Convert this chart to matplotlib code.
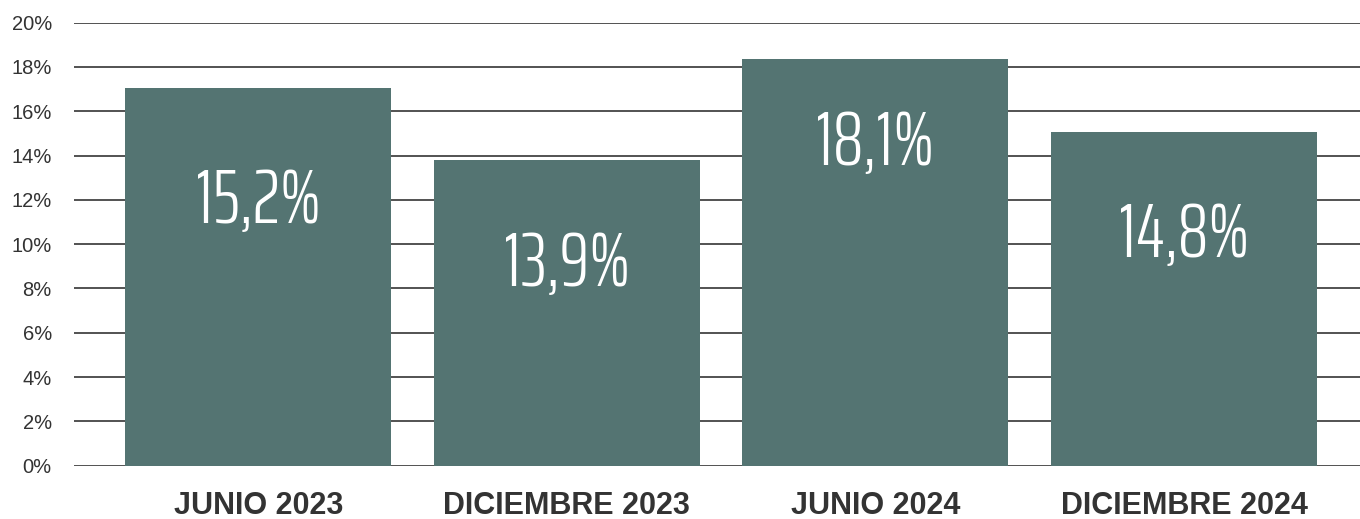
import matplotlib
matplotlib.use('Agg')
import matplotlib.pyplot as plt
import numpy

# data (bar heights in %, printed labels as shown)
PERIODS = ['JUNIO 2023', 'DICIEMBRE 2023', 'JUNIO 2024', 'DICIEMBRE 2024']
BAR_HEIGHTS = [17.05, 13.8, 18.35, 15.05]
BAR_LABELS = ['15,2%', '13,9%', '18,1%', '14,8%']
Y_TICKS = [0, 2, 4, 6, 8, 10, 12, 14, 16, 18, 20]

# layout only: how far below the bar top each label baseline sits (points)
LABEL_DROP_PT = [97, 91, 76, 90]

BAR_COLOR = '#547472'
GRID_COLOR = '#444444'
TEXT_COLOR = '#333333'

fig = plt.figure(figsize=(13.6, 5.19), dpi=100)
ax = fig.add_axes([0.0544, 0.1027, 1 - 0.0544, 0.9563 - 0.1027])

x = numpy.arange(len(PERIODS))
ax.bar(x, BAR_HEIGHTS, width=0.862, color=BAR_COLOR, zorder=3)

for xi, h, lab, drop in zip(x, BAR_HEIGHTS, BAR_LABELS, LABEL_DROP_PT):
    ax.annotate(lab, xy=(xi, h), xytext=(0, -drop), textcoords='offset points',
                ha='center', va='baseline', color='white', fontsize=55,
                family='Saira ExtraCondensed', weight=300, zorder=4)

ax.set_xlim(-0.597, 3.57)
ax.set_ylim(0, 20)
ax.set_yticks(Y_TICKS)
ax.set_yticklabels([f'{t}%' for t in Y_TICKS])
ax.yaxis.grid(True, color=GRID_COLOR, linewidth=1.3, zorder=1)
ax.set_axisbelow(True)
ax.set_xticks(x)
ax.set_xticklabels(PERIODS)

for s in ax.spines.values():
    s.set_visible(False)

ax.tick_params(axis='y', length=0, pad=16, labelsize=14.5, labelcolor=TEXT_COLOR)
ax.tick_params(axis='x', length=0, pad=18, labelsize=22, labelcolor=TEXT_COLOR)
for t in ax.get_yticklabels():
    t.set_family('Liberation Sans')
for t in ax.get_xticklabels():
    t.set_family('Liberation Sans')
    t.set_fontweight('bold')

fig.savefig('out.png', dpi=100)
